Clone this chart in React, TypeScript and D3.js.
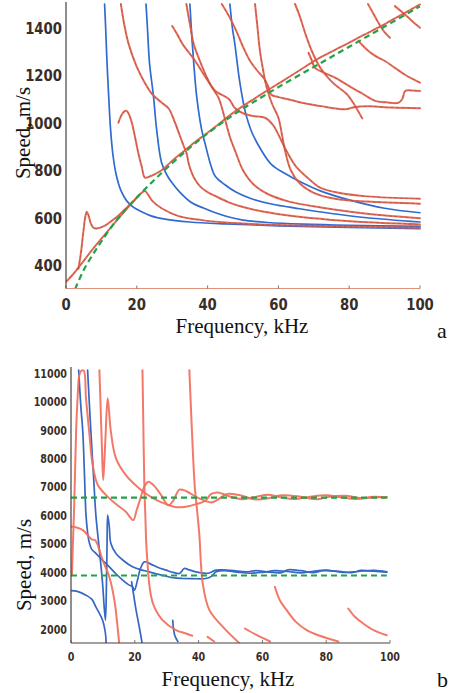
import React from "react";
import { scaleLinear, line, curveCatmullRom } from "d3";

type Pt = [number, number];

// ---------- panel a : speed 300..1500 m/s ----------
const freqTicksA = [0, 20, 40, 60, 80, 100];
const speedTicksA = [400, 600, 800, 1000, 1200, 1400];

const greenA: Pt[] = [
  [2.6, 300], [5, 380], [8, 455], [10, 500], [13, 565], [16, 620], [20, 685],
  [25, 760], [30, 830], [35, 895], [40, 955], [45, 1010], [50, 1060], [55, 1105],
  [60, 1150], [70, 1235], [80, 1320], [90, 1405], [100, 1490],
];

const blueA1: Pt[] = [
  [10.9, 1500], [11.2, 1400], [11.6, 1250], [12.1, 1100], [12.6, 970], [13.3, 860],
  [14.2, 780], [15.5, 715], [17.2, 670], [19, 645], [21, 628], [24, 608], [28, 594],
  [35, 582], [45, 574], [60, 566], [80, 559], [100, 554],
];
const blueA2: Pt[] = [
  [22.6, 1500], [23, 1400], [23.6, 1250], [24.7, 1113], [25.6, 972], [27, 832],
  [28.5, 780], [29.9, 748], [32, 710], [35.5, 663], [39, 640], [42, 622], [46, 603],
  [50, 590], [57, 580], [67, 573], [80, 568], [100, 564],
];
const blueA3: Pt[] = [
  [35, 1500], [35.6, 1350], [36.2, 1230], [36.9, 1113], [38.3, 972], [39.5, 900],
  [40.7, 832], [42.1, 776], [45, 738], [48, 708], [52, 682], [58, 658], [66, 638],
  [75, 618], [85, 600], [100, 582],
];
const blueA4: Pt[] = [
  [46.3, 1500], [47, 1400], [47.7, 1331], [49, 1180], [50.6, 1049], [52.5, 960],
  [55.3, 881], [58, 825], [62, 785], [66.6, 748], [72, 712], [80.7, 672], [90, 640],
  [100, 621],
];

const redA1: Pt[] = [
  [0, 330], [2, 362], [3.6, 392], [6, 438], [8, 476], [10, 512], [13, 565], [16, 618],
  [19, 668], [21, 700], [22.3, 713], [23.3, 695], [24.3, 672], [27, 640], [31.8, 607],
  [38.4, 590], [45, 580], [55, 572], [70, 566], [85, 561], [100, 558],
];
const redA2: Pt[] = [
  [3.5, 385], [4.2, 450], [4.9, 540], [5.5, 608], [5.9, 625], [6.4, 608], [7, 576],
  [7.8, 557], [9, 556], [11, 567], [13, 588], [15, 612], [17, 640], [19, 670], [20.5, 692],
];
const redA3: Pt[] = [
  [14.8, 1000], [15.6, 1030], [16.4, 1047], [17.1, 1050], [17.8, 1035], [18.6, 1000],
  [19.5, 940], [20.4, 874], [21.4, 815], [22.3, 769], [24, 776], [27, 800], [30, 840],
  [33.6, 884], [37, 925], [40, 958], [42.1, 982], [45, 1017], [48, 1050], [52, 1090],
  [56, 1128], [60, 1165], [64, 1202], [68, 1240], [72, 1276], [76, 1307], [80, 1337],
  [84, 1369], [88, 1399], [92, 1432], [96, 1465], [100, 1498],
];
const redA4: Pt[] = [
  [15.5, 1500], [16.5, 1410], [17.7, 1331], [20, 1235], [22, 1175], [24.3, 1121],
  [27, 1085], [29, 1060], [30.8, 1000], [32.3, 940], [33.3, 900], [34.1, 870],
  [34.6, 832], [35.5, 790], [36.4, 762], [38, 730], [40.2, 706], [42.1, 692], [46, 665],
  [50, 645], [56, 625], [64, 607], [75, 591], [87, 580], [100, 572],
];
const redA5: Pt[] = [
  [34, 1500], [35, 1415], [36.1, 1330], [37.7, 1265], [39.4, 1204], [41.2, 1150],
  [43.1, 1105], [44, 1065], [45, 1010], [46.3, 940], [47.8, 881], [50, 800], [53, 740],
  [57, 700], [63, 668], [72, 643], [82, 622], [91, 608], [100, 598],
];
const redA6: Pt[] = [
  [30, 1407], [31.5, 1370], [33, 1330], [36.5, 1260], [39.5, 1190], [42.2, 1134],
  [46, 1100], [47.7, 1062], [50, 1040], [53, 1028], [56.2, 1021], [58.5, 990], [60, 950],
  [62.3, 881], [65, 815], [68.5, 765], [71.8, 727], [77, 705], [85, 690], [100, 680],
];
const redA7: Pt[] = [
  [53.4, 1500], [54.1, 1400], [54.8, 1302], [55.7, 1220], [56.7, 1148], [58.2, 1080],
  [60, 1021], [61, 950], [61.9, 881], [63.5, 800], [66, 745], [70, 705], [76, 680],
  [85, 668], [100, 659],
];
const redA8: Pt[] = [
  [44, 1500], [46, 1450], [48, 1390], [50, 1320], [52, 1260], [54, 1220], [56, 1185],
  [57.2, 1150], [58, 1118], [60, 1108], [63, 1098], [66.6, 1084], [72, 1070],
  [77.9, 1057], [79.5, 1058], [80.7, 1063], [83, 1068], [86, 1069], [92, 1064], [100, 1061],
];
const redA9: Pt[] = [
  [64.7, 1500], [66, 1450], [67.5, 1380], [69.5, 1300], [71.8, 1232], [74, 1190],
  [76, 1160], [79.3, 1121], [81.5, 1075], [83.7, 1018],
];
const redA10: Pt[] = [
  [68.5, 1295], [69.5, 1260], [70.3, 1232], [73, 1210], [76, 1190], [78.5, 1168],
  [80.7, 1148], [84, 1120], [87.3, 1092], [90.5, 1086], [93.9, 1084], [95, 1100],
  [95.8, 1134], [97.5, 1136], [100, 1134],
];
const redA11: Pt[] = [[85.3, 1500], [86.8, 1460], [88.3, 1420], [89.8, 1385], [91.5, 1358]];
const redA12: Pt[] = [[92.9, 1491], [95, 1465], [97.5, 1432], [100, 1400]];
const redA13: Pt[] = [
  [82.6, 1344], [84.5, 1315], [86.5, 1290], [88.5, 1272], [90.1, 1260], [93, 1230],
  [96, 1200], [100, 1169],
];

// ---------- panel b : speed 1500..11000 m/s ----------
const freqTicksB = [0, 20, 40, 60, 80, 100];
const speedTicksB = [2000, 3000, 4000, 5000, 6000, 7000, 8000, 9000, 10000, 11000];

const greenB1: Pt[] = [[0, 6620], [99, 6620]];
const greenB2: Pt[] = [[0, 3880], [99, 3880]];

const redB1: Pt[] = [
  [0.3, 3900], [0.6, 5000], [1, 6300], [1.6, 8935], [2.1, 10200], [2.6, 10930],
  [3.2, 11080], [4, 11080], [4.7, 10110], [5.7, 8935], [6.8, 7763], [8.4, 7060],
  [11, 6707], [14, 6400], [17.2, 6120], [19.5, 5828], [20.5, 6150], [21.6, 6531],
  [23, 7000], [24.2, 7175], [26, 7040], [28, 6750], [30.5, 6350], [32, 6500], [34, 6900],
  [36, 6850], [40, 6600], [44, 6450], [46, 6550], [49, 6750], [53, 6700], [58, 6550],
  [62, 6600], [66, 6700], [72, 6650], [77, 6560], [81, 6650], [86, 6680], [91, 6600],
  [95, 6620], [99, 6640],
];
const redB2: Pt[] = [
  [8.9, 11100], [9.2, 10110], [9.7, 8350], [10.1, 7235], [10.8, 8700], [11.5, 10110],
  [12.5, 8935], [14.1, 7998], [17.2, 7411], [21.4, 6942], [24, 6720], [27, 6520],
  [30, 6380], [33, 6280], [36, 6300], [39, 6380], [42, 6500], [44, 6750], [46, 6800],
  [50, 6650], [54, 6560], [58, 6650], [62, 6720], [66, 6620], [70, 6570], [75, 6650],
  [80, 6700], [85, 6620], [90, 6570], [95, 6650], [99, 6620],
];
const redB3: Pt[] = [
  [0, 5600], [2, 5560], [3.7, 5475], [5.7, 5240], [6.5, 5150], [7.5, 5130], [8.2, 5000],
  [8.9, 4772], [10, 4400], [12, 3834], [13.6, 3013], [14.6, 2075], [15.1, 1500],
];
const redB4: Pt[] = [
  [22.4, 11100], [22.7, 9000], [23, 7000], [23.3, 6000], [23.6, 5000], [24, 4300],
  [24.5, 3600], [25.2, 3100], [26.1, 2778], [28.7, 2310], [32.9, 1958], [36, 1841],
  [38, 1760],
];
const redB5: Pt[] = [
  [37.1, 11100], [37.7, 9500], [38.3, 8000], [38.8, 7000], [39.2, 6531], [40.2, 5357],
  [41.3, 3599], [43.4, 2661], [47.6, 2075], [52.8, 1500],
];
const redB6: Pt[] = [[42.8, 1724], [44.9, 1560]];
const redB7: Pt[] = [[54.5, 2017], [58, 1800], [62.4, 1560]];
const redB8: Pt[] = [
  [63.9, 3482], [65.5, 3000], [67.6, 2661], [70.5, 2250], [73.9, 1958], [78, 1760],
  [83.8, 1560],
];
const redB9: Pt[] = [[86.9, 2720], [89, 2430], [91.6, 2193], [95, 1950], [99, 1782]];

const blueB1: Pt[] = [
  [2.4, 11100], [3.1, 9800], [3.7, 8935], [4.2, 7500], [4.7, 6004], [5.2, 5400],
  [5.7, 5050], [6.5, 4800], [7.8, 4655], [10, 4400], [12, 4185], [14, 3950],
  [16.2, 3716], [18, 3560], [19.3, 3481], [19.9, 3364], [20.8, 3700], [21.7, 4100],
  [23, 4360], [25, 4280], [27.5, 4150], [29.8, 4068], [32, 3990], [34, 3950],
  [35.5, 4126], [37, 4080], [40, 3990], [43, 3960], [45.5, 4068], [50, 4060],
  [54.9, 4009], [58, 4050], [62, 4000], [66, 3980], [68, 4080], [72, 4050], [76, 3980],
  [79, 4050], [84, 4030], [88, 3980], [91, 4060], [95, 4030], [99, 4000],
];
const blueB2: Pt[] = [
  [5.2, 11100], [6.2, 9000], [7, 7500], [7.8, 6004], [8.9, 4772], [9.9, 3599],
  [10.4, 2778], [10.8, 2310], [11.1, 3500], [11.3, 5000], [11.5, 6004], [12, 5600],
  [12.5, 5005], [14.1, 4655], [16.5, 4400], [19.3, 4185], [22, 4080], [24.5, 4009],
  [27, 3930], [29.8, 3857], [32, 3800], [35, 3775], [38, 3770], [42.3, 3775], [44, 3850],
  [45.5, 4009], [48, 4050], [52, 4000], [56, 3960], [60, 3990], [64, 4050], [68, 4020],
  [72, 3970], [76, 4030], [80, 4070], [85, 3990], [90, 4020], [95, 4060], [99, 4010],
];
const blueB3: Pt[] = [
  [0, 3350], [2, 3320], [4.7, 3188], [6.5, 3050], [7.8, 2778], [9.9, 2310],
  [10.8, 1841], [11, 1500],
];
const blueB4: Pt[] = [[19, 3657], [19.5, 3300], [20.4, 2661], [21.4, 2075], [22.3, 1500]];
const blueB5: Pt[] = [[31.9, 2300], [32.2, 1950], [32.6, 1750], [33.5, 1560]];

const RED_A = "#e4604b";
const BLUE_A = "#2f6bd1";
const RED_B = "#f26c5a";
const BLUE_B = "#3567c4";
const GREEN = "#22a24a";
const TICK_FONT = "'Liberation Sans Narrow', 'DejaVu Sans Condensed', sans-serif";
const TITLE_FONT = "'Liberation Serif', 'DejaVu Serif', serif";

interface PanelProps {
  id: string;
  left: number;
  right: number;
  top: number;
  bottom: number;
  xAt0: number;
  xAt100: number;
  yDomain: [number, number];
  yRange: [number, number];
  yTicks: number[];
  xTicks: number[];
  fontSize: number;
  squeeze: number;
  yLabelX: number;
  xLabelY: number;
  bottomColor: string;
  greens: Pt[][];
  reds: Pt[][];
  blues: Pt[][];
  redColor: string;
  blueColor: string;
  dashedCore: boolean;
}

const Panel = (p: PanelProps) => {
  const x = scaleLinear().domain([0, 100]).range([p.xAt0, p.xAt100]);
  const y = scaleLinear().domain(p.yDomain).range(p.yRange);
  const path = line<Pt>()
    .x((d) => x(d[0]))
    .y((d) => y(d[1]))
    .curve(curveCatmullRom.alpha(0.5));
  const clipId = `clip-${p.id}`;
  const half = p.fontSize * 0.36;

  return (
    <g>
      <defs>
        <clipPath id={clipId}>
          <rect x={p.left} y={p.top} width={p.right - p.left + 2} height={p.bottom - p.top} />
        </clipPath>
      </defs>

      <g clipPath={`url(#${clipId})`} fill="none" strokeLinecap="round" strokeLinejoin="round">
        {p.blues.map((c, i) => (
          <path key={`b${i}`} d={path(c) || ""} stroke={p.blueColor} strokeWidth={1.7} />
        ))}
        {p.reds.map((c, i) => (
          <path key={`r${i}`} d={path(c) || ""} stroke={p.redColor} strokeWidth={2} opacity={0.92} />
        ))}
        {p.dashedCore &&
          p.reds.map((c, i) => (
            <path key={`k${i}`} d={path(c) || ""} stroke="#5a2a22" strokeWidth={0.6}
              strokeDasharray="2.5 3" opacity={0.45} />
          ))}
        {p.greens.map((c, i) => (
          <path key={`g${i}`} d={path(c) || ""} stroke={GREEN} strokeWidth={2.2}
            strokeDasharray="6 4" strokeLinecap="butt" />
        ))}
      </g>

      {/* axes */}
      <line x1={p.left} x2={p.left} y1={p.top} y2={p.bottom} stroke="#4a403c" strokeWidth={1.2} />
      <line x1={p.left} x2={p.right} y1={p.bottom} y2={p.bottom} stroke={p.bottomColor} strokeWidth={1.2} />
      {p.xTicks.map((t) => (
        <line key={`xt${t}`} x1={x(t)} x2={x(t)} y1={p.bottom} y2={p.bottom - 3} stroke="#555" strokeWidth={0.8} />
      ))}

      <g fontFamily={TICK_FONT} fontWeight="bold" fontSize={p.fontSize} fill="#3a2d28">
        {p.yTicks.map((t) => (
          <text key={`yl${t}`} textAnchor="end"
            transform={`translate(${p.yLabelX},${y(t) + half}) scale(${p.squeeze},1)`}>
            {t}
          </text>
        ))}
        {p.xTicks.map((t) => (
          <text key={`xl${t}`} textAnchor="middle"
            transform={`translate(${x(t)},${p.xLabelY}) scale(${p.squeeze},1)`}>
            {t}
          </text>
        ))}
      </g>
    </g>
  );
};

const App = () => {
  return (
    <svg width={459} height={693} style={{ position: "absolute", left: 0, top: 0, background: "#fff" }}>
      <Panel
        id="a" left={66} right={420} top={2} bottom={288.5}
        xAt0={66} xAt100={420} yDomain={[300, 1500]} yRange={[289, 4]}
        yTicks={speedTicksA} xTicks={freqTicksA}
        fontSize={16} squeeze={0.92} yLabelX={62} xLabelY={310}
        bottomColor="#e0937a"
        greens={[greenA]}
        reds={[redA1, redA2, redA3, redA4, redA5, redA6, redA7, redA8, redA9, redA10, redA11, redA12, redA13]}
        blues={[blueA1, blueA2, blueA3, blueA4]}
        redColor={RED_A} blueColor={BLUE_A} dashedCore={true}
      />
      <Panel
        id="b" left={71} right={390} top={367} bottom={643}
        xAt0={71} xAt100={390} yDomain={[1500, 11000]} yRange={[643.2, 373]}
        yTicks={speedTicksB} xTicks={freqTicksB}
        fontSize={13} squeeze={0.82} yLabelX={67} xLabelY={661}
        bottomColor="#4a403c"
        greens={[greenB1, greenB2]}
        reds={[redB1, redB2, redB3, redB4, redB5, redB6, redB7, redB8, redB9]}
        blues={[blueB1, blueB2, blueB3, blueB4, blueB5]}
        redColor={RED_B} blueColor={BLUE_B} dashedCore={false}
      />

      <g fontFamily={TITLE_FONT} fontSize={21} fill="#111">
        <text transform="translate(30,133) rotate(-90)" textAnchor="middle">Speed, m/s</text>
        <text x={242} y={333} textAnchor="middle">Frequency, kHz</text>
        <text transform="translate(31,565) rotate(-90)" textAnchor="middle">Speed, m/s</text>
        <text x={228} y={686} textAnchor="middle">Frequency, kHz</text>
        <text x={437} y={338} fontSize={22}>a</text>
        <text x={437} y={687} fontSize={22}>b</text>
      </g>
    </svg>
  );
};

export default App;
